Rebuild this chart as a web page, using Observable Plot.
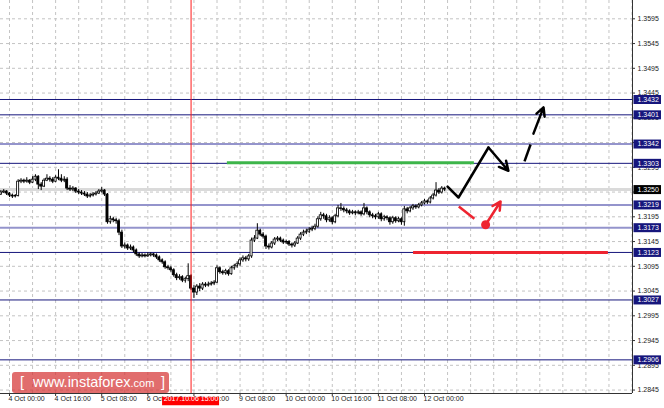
<!DOCTYPE html>
<html><head><meta charset="utf-8">
<script src="https://cdn.jsdelivr.net/npm/d3@7"></script>
<script src="https://cdn.jsdelivr.net/npm/@observablehq/plot@0.6"></script>
<style>
html,body{margin:0;padding:0;background:#fff;}
#wrap{position:relative;width:664px;height:408px;overflow:hidden;}
#wm{position:absolute;left:12px;top:372px;width:157px;height:21px;background:rgba(214,52,52,0.72);border-radius:3px;color:#fff;font-family:"Liberation Sans",Arial,sans-serif;white-space:nowrap;}
#wm span{position:absolute;top:1px;font-size:14.5px;line-height:18px;}
</style></head><body><div id="wrap"></div>
<script>
// H1 candles, bar index 0 = 4 Oct 00:00 (first bar index -3)
const firstBar = -3;
const firstOpen = 1.3240;
const closes = [1.3244,1.3246,1.3242,
1.3238,1.3236,1.3237,1.3266,1.3268,1.3266,1.3268,1.3264,1.3270,1.3276,
1.3260,1.3256,1.3268,1.3272,1.3270,1.3266,1.3274,1.3272,1.3268,1.3270,
1.3252,1.3250,1.3252,1.3246,1.3244,1.3242,1.3240,1.3236,1.3238,1.3240,
1.3242,1.3246,1.3248,1.3240,1.3184,1.3190,1.3188,1.3186,1.3163,1.3135,
1.3137,1.3131,1.3133,1.3127,1.3119,1.3115,1.3117,1.3115,1.3117,1.3119,
1.3117,1.3113,1.3107,1.3103,1.3093,1.3091,1.3087,1.3077,1.3071,1.3073,
1.3066,1.3069,1.3075,1.3050,1.3042,1.3054,1.3050,1.3058,1.3056,1.3058,
1.3060,1.3062,1.3091,1.3083,1.3081,1.3085,1.3079,1.3091,1.3095,1.3099,
1.3107,1.3111,1.3109,1.3115,1.3147,1.3151,1.3167,1.3159,1.3155,1.3135,
1.3133,1.3141,1.3149,1.3151,1.3147,1.3143,1.3144,1.3139,1.3137,1.3141,
1.3151,1.3159,1.3163,1.3165,1.3169,1.3171,1.3175,1.3190,1.3198,1.3196,
1.3188,1.3192,1.3184,1.3196,1.3212,1.3211,1.3208,1.3206,1.3202,1.3204,
1.3202,1.3204,1.3200,1.3212,1.3204,1.3198,1.3196,1.3194,1.3200,1.3190,
1.3194,1.3192,1.3184,1.3192,1.3186,1.3190,1.3184,1.3210,1.3206,1.3212,
1.3216,1.3214,1.3218,1.3222,1.3226,1.3224,1.3232,1.3238,1.3248,1.3244,
1.3252,1.3250];
const highs = [1.3248,1.3250,1.3248,
1.3244,1.3241,1.3240,1.3270,1.3272,1.3271,1.3274,1.3270,1.3276,1.3280,
1.3278,1.3264,1.3272,1.3280,1.3276,1.3274,1.3278,1.3290,1.3280,1.3276,
1.3274,1.3258,1.3256,1.3254,1.3250,1.3248,1.3246,1.3244,1.3242,1.3244,
1.3246,1.3250,1.3254,1.3250,1.3242,1.3196,1.3194,1.3192,1.3190,1.3168,
1.3142,1.3140,1.3138,1.3136,1.3130,1.3122,1.3121,1.3120,1.3122,1.3122,
1.3121,1.3120,1.3116,1.3110,1.3106,1.3097,1.3095,1.3090,1.3081,1.3078,
1.3076,1.3073,1.3100,1.3078,1.3056,1.3058,1.3060,1.3062,1.3062,1.3063,
1.3064,1.3066,1.3096,1.3094,1.3087,1.3089,1.3088,1.3095,1.3099,1.3104,
1.3112,1.3116,1.3115,1.3119,1.3152,1.3157,1.3181,1.3170,1.3163,1.3158,
1.3140,1.3145,1.3153,1.3155,1.3154,1.3150,1.3148,1.3147,1.3142,1.3145,
1.3155,1.3163,1.3168,1.3170,1.3173,1.3176,1.3180,1.3195,1.3204,1.3202,
1.3200,1.3197,1.3195,1.3200,1.3218,1.3222,1.3215,1.3212,1.3209,1.3208,
1.3207,1.3208,1.3207,1.3222,1.3215,1.3207,1.3202,1.3200,1.3204,1.3203,
1.3198,1.3197,1.3195,1.3196,1.3195,1.3194,1.3193,1.3216,1.3214,1.3216,
1.3220,1.3219,1.3222,1.3226,1.3230,1.3229,1.3236,1.3242,1.3264,1.3252,
1.3256,1.3255];
const lows = [1.3238,1.3242,1.3238,
1.3234,1.3232,1.3233,1.3235,1.3262,1.3262,1.3263,1.3260,1.3262,1.3266,
1.3250,1.3248,1.3254,1.3266,1.3265,1.3262,1.3264,1.3268,1.3264,1.3264,
1.3248,1.3246,1.3246,1.3242,1.3240,1.3238,1.3236,1.3232,1.3233,1.3235,
1.3237,1.3240,1.3243,1.3236,1.3180,1.3180,1.3183,1.3180,1.3157,1.3131,
1.3130,1.3127,1.3127,1.3122,1.3115,1.3111,1.3112,1.3112,1.3113,1.3114,
1.3113,1.3109,1.3103,1.3099,1.3089,1.3087,1.3083,1.3073,1.3066,1.3067,
1.3062,1.3061,1.3064,1.3046,1.3030,1.3036,1.3044,1.3046,1.3052,1.3053,
1.3055,1.3056,1.3060,1.3079,1.3077,1.3077,1.3075,1.3077,1.3087,1.3091,
1.3095,1.3103,1.3104,1.3105,1.3111,1.3143,1.3149,1.3155,1.3150,1.3129,
1.3128,1.3130,1.3137,1.3145,1.3143,1.3139,1.3139,1.3135,1.3132,1.3133,
1.3139,1.3147,1.3155,1.3159,1.3161,1.3165,1.3167,1.3172,1.3186,1.3190,
1.3183,1.3184,1.3179,1.3181,1.3193,1.3206,1.3203,1.3201,1.3198,1.3199,
1.3197,1.3199,1.3196,1.3197,1.3199,1.3193,1.3191,1.3189,1.3190,1.3185,
1.3186,1.3187,1.3178,1.3180,1.3182,1.3183,1.3178,1.3176,1.3201,1.3203,
1.3208,1.3210,1.3211,1.3215,1.3219,1.3220,1.3221,1.3229,1.3235,1.3240,
1.3241,1.3246];

// price axis ticks and levels
const yTicks = [1.3595,1.3545,1.3495,1.3445,1.3395,1.3345,1.3295,1.3245,1.3195,1.3145,1.3095,1.3045,1.2995,1.2945,1.2895,1.2845];
const darkLevels = [1.3432,1.3401,1.3303,1.3123,1.3027,1.2906];
const lightLevels = [1.3342,1.3219,1.3173];
const bidPrice = 1.3250;

// time axis
const xTickBars = [0,16,32,48,64,80,96,112,128,144];
const xTickLabels = ["4 Oct 00:00","4 Oct 16:00","5 Oct 08:00","6 Oct 00:00","6 Oct 16:00","9 Oct 08:00","10 Oct 00:00","10 Oct 16:00","11 Oct 08:00","12 Oct 00:00"];
const markerBar = 63;
const markerLabel = "2017.10.06 15:00";

// forecast drawings (bar, price)
const greenBars = [75.6, 161.3];
const greenPrice = 1.3304;
const redLineBars = [140.2, 207.8];
const redLinePrice = 1.3123;
const blackPathBars = [152, 155.8, 166.2];
const blackPathPrices = [1.3256, 1.3234, 1.3335];
const blackArrowBars = [166.2, 173.1];
const blackArrowPrices = [1.3335, 1.3288];
const dashBars = [178.7, 180.8, 181.8, 185.3];
const dashPrices = [1.3307, 1.3341, 1.3363, 1.3416];
const redPathBars = [155.9, 161.3];
const redPathPrices = [1.3216, 1.3191];
const redDotBar = 165.2, redDotPrice = 1.3179;
const redArrowBars = [165.2, 170.4];
const redArrowPrices = [1.3179, 1.3226];

const xMin = -3.123, xMax = 216.17;
const yMin = 1.283803, yMax = 1.363197;
const pxX = (xMax - xMin) / 632;   // bars per pixel
const pxY = (yMax - yMin) / 393;   // price per pixel

const candles = closes.map((c, k) => ({
  i: firstBar + k,
  o: k === 0 ? firstOpen : closes[k - 1],
  h: highs[k], l: lows[k], c
}));
const allLevels = [...darkLevels, ...lightLevels];
const boxed = [...allLevels, bidPrice];
// tick labels fully hidden behind a level box are not drawn
const yLabelTicks = yTicks.filter(t => boxed.every(v => Math.abs(v - t) > 0.00055));
const gridBars = d3.range(0, 217, 8);
const xTicks = xTickBars.map((b, k) => ({b, label: xTickLabels[k]}));

const navy = "#16167c";
const red = "#ee2430";
const font = "'Liberation Sans', Arial, sans-serif";

const chart = Plot.plot({
  width: 664, height: 408,
  marginLeft: 0, marginRight: 32, marginTop: 0, marginBottom: 15,
  x: {domain: [xMin, xMax], axis: null},
  y: {domain: [yMin, yMax], axis: null},
  style: {fontFamily: font, background: "#fff", overflow: "visible"},
  marks: [
    Plot.ruleY(yTicks, {y: d => d, stroke: "#c4c4c4", strokeDasharray: "3,3"}),
    Plot.ruleX(gridBars, {x: d => d, stroke: "#c4c4c4", strokeDasharray: "3,3"}),
    Plot.ruleY([bidPrice], {y: d => d, stroke: "#dadada", strokeWidth: 3}),
    Plot.ruleY(lightLevels, {y: d => d, stroke: "#9494cc", strokeWidth: 2}),
    Plot.ruleY(darkLevels, {y: d => d, stroke: navy, strokeWidth: 1}),
    Plot.ruleY([greenPrice], {y: d => d, x1: greenBars[0], x2: greenBars[1], stroke: "#3db54a", strokeWidth: 3}),
    Plot.ruleY([redLinePrice], {y: d => d, x1: redLineBars[0], x2: redLineBars[1], stroke: red, strokeWidth: 3}),
    Plot.ruleX(candles, {x: "i", y1: "l", y2: "h", stroke: "#000", strokeWidth: 1}),
    Plot.rect(candles, {x1: d => d.i - 0.36, x2: d => d.i + 0.36, y1: "o", y2: "c",
      fill: d => d.c >= d.o ? "#fff" : "#000", stroke: "#000", strokeWidth: 0.8}),
    Plot.ruleX([markerBar], {x: d => d, stroke: "#ff1a1a", strokeWidth: 1}),
    // forecast
    Plot.line(blackPathBars.map((b, k) => ({b, p: blackPathPrices[k]})), {x: "b", y: "p", stroke: "#000", strokeWidth: 2.5}),
    Plot.arrow([0], {x1: () => blackArrowBars[0], y1: () => blackArrowPrices[0], x2: () => blackArrowBars[1], y2: () => blackArrowPrices[1],
      stroke: "#000", strokeWidth: 2.5, headLength: 11, headAngle: 55}),
    Plot.link([0], {x1: () => dashBars[0], y1: () => dashPrices[0], x2: () => dashBars[1], y2: () => dashPrices[1], stroke: "#000", strokeWidth: 2.5}),
    Plot.arrow([0], {x1: () => dashBars[2], y1: () => dashPrices[2], x2: () => dashBars[3], y2: () => dashPrices[3],
      stroke: "#000", strokeWidth: 2.5, headLength: 11, headAngle: 55}),
    Plot.link([0], {x1: () => redPathBars[0], y1: () => redPathPrices[0], x2: () => redPathBars[1], y2: () => redPathPrices[1], stroke: red, strokeWidth: 2.5}),
    Plot.arrow([0], {x1: () => redArrowBars[0], y1: () => redArrowPrices[0], x2: () => redArrowBars[1], y2: () => redArrowPrices[1],
      stroke: red, strokeWidth: 2.5, headLength: 11, headAngle: 55}),
    Plot.dot([0], {x: () => redDotBar, y: () => redDotPrice, r: 4.5, fill: red}),
    // axes
    Plot.ruleX([xMax], {x: d => d, stroke: "#333", strokeWidth: 1}),
    Plot.ruleY([yMin], {y: d => d, x1: xMin, x2: xMax, stroke: "#333", strokeWidth: 1}),
    Plot.ruleY(yTicks, {y: d => d, x1: xMax, x2: xMax + 3 * pxX, stroke: "#333"}),
    Plot.text(yLabelTicks, {y: d => d, frameAnchor: "right", dx: 5, textAnchor: "start", text: d => d.toFixed(4), fontSize: 7, fill: "#222"}),
    Plot.ruleY(allLevels, {y: d => d, x1: xMax + 1.5 * pxX, x2: xMax + 29 * pxX, stroke: navy, strokeWidth: 9}),
    Plot.text(allLevels, {y: d => d, frameAnchor: "right", dx: 5, textAnchor: "start", text: d => d.toFixed(4), fontSize: 7, fill: "#fff"}),
    Plot.ruleY([bidPrice], {y: d => d, x1: xMax + 1.5 * pxX, x2: xMax + 29 * pxX, stroke: "#000", strokeWidth: 9}),
    Plot.text([bidPrice], {y: d => d, frameAnchor: "right", dx: 5, textAnchor: "start", text: d => d.toFixed(4), fontSize: 7, fill: "#fff"}),
    Plot.ruleX(xTicks, {x: "b", y1: yMin, y2: yMin - 3 * pxY, stroke: "#333"}),
    Plot.text(xTicks, {x: "b", frameAnchor: "bottom", dy: 7, dx: -1, textAnchor: "start", text: "label", fontSize: 7, fill: "#222"}),
    Plot.ruleY([yMin], {y: d => d, x1: markerBar - 28.5 * pxX, x2: markerBar + 28.5 * pxX, dy: 7.5, stroke: "#ff0000", strokeWidth: 8.5}),
    Plot.text([markerLabel], {x: () => markerBar, frameAnchor: "bottom", dy: 7.5, textAnchor: "middle", text: d => d, fontSize: 7, fill: "#fff"})
  ]
});
const wrap = document.getElementById("wrap");
wrap.appendChild(chart);
const wm = document.createElement("div");
wm.id = "wm";
wm.innerHTML = '<span style="left:8px">[</span><span style="left:21px">www.instaforex<span style="position:static;font-size:11px">.com</span></span><span style="left:149px">]</span>';
wrap.appendChild(wm);
</script>
</body></html>
